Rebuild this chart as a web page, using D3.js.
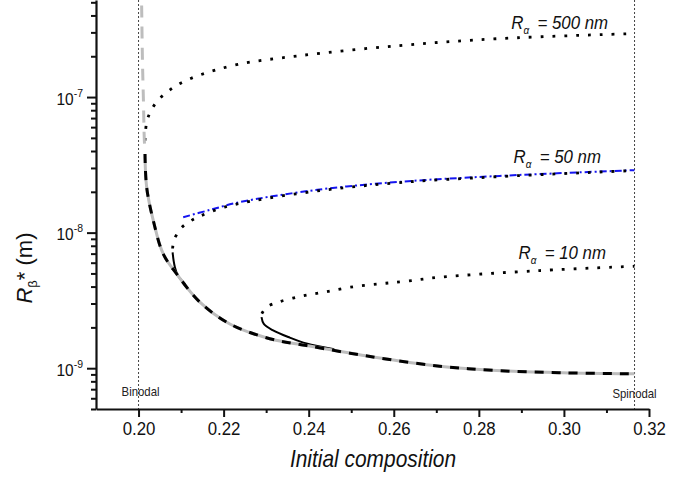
<!DOCTYPE html>
<html><head><meta charset="utf-8">
<script src="https://cdn.jsdelivr.net/npm/d3@7/dist/d3.min.js"></script>
<style>
body{margin:0;background:#fff;}
svg{display:block;font-family:"Liberation Sans",Arial,sans-serif;}
</style>
</head><body>
<svg id="chart" width="695" height="481"></svg>
<script>
// ---------- data ----------
const xMajorTicks = [0.20, 0.22, 0.24, 0.26, 0.28, 0.30, 0.32];
const xMinorTicks = [0.21, 0.23, 0.25, 0.27, 0.29, 0.31];
const yMajorTicks = [1e-9, 1e-8, 1e-7];
const yMajorExp = ["-9", "-8", "-7"];
const yMinorTicks = [5e-10, 6e-10, 7e-10, 8e-10, 9e-10,
  2e-9, 3e-9, 4e-9, 5e-9, 6e-9, 7e-9, 8e-9, 9e-9,
  2e-8, 3e-8, 4e-8, 5e-8, 6e-8, 7e-8, 8e-8, 9e-8,
  2e-7, 3e-7, 4e-7, 5e-7];
const binodal = 0.200;
const spinodal = 0.3166;

// R_alpha -> infinity (gray + black dashed envelope)
const grayTop = [[0.20073, 4.73e-7], [0.20092, 1.86e-7], [0.20115, 9.42e-8], [0.20134, 5.02e-8], [0.20150, 4.0e-8]];
const envelope = [[0.20152, 3.8e-8], [0.20191, 2.16e-8], [0.20346, 1.23e-8], [0.20580, 6.97e-9], [0.20895, 4.97e-9],
  [0.21442, 3.07e-9], [0.22147, 2.12e-9], [0.23086, 1.65e-9], [0.23948, 1.47e-9], [0.25512, 1.21e-9],
  [0.27078, 1.035e-9], [0.28409, 9.62e-10], [0.29973, 9.25e-10], [0.31657, 9.09e-10]];

// R_alpha = 500 nm
const dotted500 = [[0.20151, 4.77e-8], [0.20191, 6.52e-8], [0.20285, 7.85e-8], [0.20449, 9.42e-8], [0.20660, 1.08e-7],
  [0.20895, 1.22e-7], [0.21402, 1.44e-7], [0.22335, 1.74e-7], [0.23790, 2.02e-7], [0.26139, 2.40e-7],
  [0.28487, 2.70e-7], [0.31657, 2.94e-7]];

// R_alpha = 50 nm
const dotted50 = [[0.20801, 7.64e-9], [0.20832, 8.75e-9], [0.20989, 1.07e-8], [0.21207, 1.21e-8], [0.21442, 1.32e-8],
  [0.21952, 1.52e-8], [0.22656, 1.71e-8], [0.24260, 2.04e-8], [0.26139, 2.34e-8], [0.28487, 2.59e-8], [0.31657, 2.87e-8]];
const solid50 = [[0.20801, 7.16e-9], [0.20825, 6.2e-9], [0.20855, 5.56e-9], [0.20926, 4.83e-9], [0.21100, 4.15e-9]];
const blue50 = [[0.21050, 1.30e-8], [0.21677, 1.47e-8], [0.22382, 1.68e-8], [0.24260, 2.08e-8], [0.26139, 2.37e-8],
  [0.28487, 2.62e-8], [0.31657, 2.89e-8]];

// R_alpha = 10 nm
const dotted10 = [[0.22898, 2.53e-9], [0.23008, 2.82e-9], [0.23281, 3.07e-9], [0.23790, 3.38e-9], [0.24338, 3.63e-9],
  [0.24965, 3.95e-9], [0.25669, 4.19e-9], [0.26296, 4.38e-9], [0.27078, 4.69e-9], [0.29426, 5.25e-9], [0.31657, 5.65e-9]];
const solid10 = [[0.22891, 2.38e-9], [0.22945, 2.12e-9], [0.23163, 1.90e-9], [0.23556, 1.68e-9], [0.23948, 1.52e-9], [0.24600, 1.38e-9]];

const curveLabels = ["500 nm", "50 nm", "10 nm"];
const curveLabelX = [0.28762, 0.28816, 0.28933];
const curveLabelY = [3.20e-7, 3.24e-8, 6.44e-9];

// ---------- drawing ----------
const SX = 0.91; // horizontal text squeeze seen in the reference
const svg = d3.select("#chart");
const x = d3.scaleLinear().domain([0.19, 0.32]).range([96, 649]);
const y = d3.scaleLog().domain([5e-10, 5.2e-7]).range([409, 0]);
const line = d3.line().x(d => x(d[0])).y(d => y(d[1])).curve(d3.curveCatmullRom.alpha(0.5));

function textAt(px, py) {
  return svg.append("text").attr("transform", `translate(${px},${py}) scale(${SX},1)`);
}

// reference vertical lines
[binodal, spinodal].forEach(v => {
  svg.append("line").attr("x1", x(v)).attr("x2", x(v)).attr("y1", 0).attr("y2", 409)
    .attr("stroke", "#444").attr("stroke-width", 1).attr("stroke-dasharray", "2,2");
});
textAt(x(binodal) + 2, 396).attr("text-anchor", "middle").attr("font-size", 12.5).attr("fill", "#222").text("Binodal");
textAt(x(spinodal), 398).attr("text-anchor", "middle").attr("font-size", 12.5).attr("fill", "#222").text("Spinodal");

// curves
const dotStyle = p => p.attr("fill", "none").attr("stroke", "#000").attr("stroke-width", 2.8).attr("stroke-dasharray", "2.8,9");
svg.append("path").datum(blue50).attr("d", line).attr("fill", "none").attr("stroke", "#1515f0")
  .attr("stroke-width", 2).attr("stroke-dasharray", "7,3,2,3");
svg.append("path").datum(dotted500).attr("d", line).call(dotStyle);
svg.append("path").datum(dotted50).attr("d", line).call(dotStyle);
svg.append("path").datum(dotted10).attr("d", line).call(dotStyle);
svg.append("path").datum(solid50).attr("d", line).attr("fill", "none").attr("stroke", "#000").attr("stroke-width", 2);
svg.append("path").datum(solid10).attr("d", line).attr("fill", "none").attr("stroke", "#000").attr("stroke-width", 2);
svg.append("path").datum(grayTop).attr("d", line).attr("fill", "none").attr("stroke", "#bdbdbd")
  .attr("stroke-width", 3).attr("stroke-dasharray", "12,9");
svg.append("path").datum(envelope).attr("d", line).attr("fill", "none").attr("stroke", "#bdbdbd").attr("stroke-width", 3);
svg.append("path").datum(envelope).attr("d", line).attr("fill", "none").attr("stroke", "#000")
  .attr("stroke-width", 3).attr("stroke-dasharray", "9,8");

// curve labels
curveLabels.forEach((t, i) => {
  const tx = textAt(x(curveLabelX[i]), y(curveLabelY[i]))
    .attr("font-size", 18.5).attr("font-style", "italic").attr("fill", "#111");
  tx.append("tspan").text("R");
  tx.append("tspan").attr("font-size", 11).attr("dy", 5).text("α");
  tx.append("tspan").attr("dy", -5).attr("dx", 4).text(" = " + t);
});

// axes
const gx = svg.append("g").attr("transform", "translate(0,409)");
gx.call(d3.axisBottom(x).tickValues(xMinorTicks).tickSize(4).tickFormat("").tickSizeOuter(0));
const gxMajor = svg.append("g").attr("transform", "translate(0,409)");
gxMajor.call(d3.axisBottom(x).tickValues(xMajorTicks).tickSize(8).tickPadding(5).tickSizeOuter(0).tickFormat(d3.format(".2f")));
gxMajor.select("path.domain").remove();
gx.selectAll("path.domain").attr("stroke-width", 2.2).attr("stroke", "#111");
gxMajor.selectAll("text").attr("font-size", 18.5).attr("fill", "#111").attr("transform", `scale(${SX},1)`)
  .attr("font-family", "Liberation Sans, Arial, sans-serif");

const gy = svg.append("g").attr("transform", "translate(96,0)");
gy.call(d3.axisLeft(y).tickValues(yMinorTicks).tickSize(5).tickFormat("").tickSizeOuter(0));
const gyMajor = svg.append("g").attr("transform", "translate(96,0)");
gyMajor.call(d3.axisLeft(y).tickValues(yMajorTicks).tickSize(9).tickSizeOuter(0).tickFormat(""));
gyMajor.select("path.domain").remove();
gy.selectAll("path.domain").attr("stroke-width", 2.2).attr("stroke", "#111");
svg.selectAll("g line").attr("stroke-width", 2).attr("stroke", "#111");
gyMajor.selectAll("g.tick").each(function(d, i) {
  const t = d3.select(this).append("text").attr("transform", `translate(-13,7) scale(${SX},1)`).attr("text-anchor", "end")
    .attr("fill", "#111").attr("font-size", 17).attr("font-family", "Liberation Sans, Arial, sans-serif");
  t.append("tspan").text("10");
  t.append("tspan").attr("font-size", 11.5).attr("dy", -8).text(yMajorExp[i]);
});

// axis titles
textAt(373, 467).attr("text-anchor", "middle")
  .attr("font-size", 23).attr("font-style", "italic").attr("fill", "#111").text("Initial composition");
const yt = svg.append("text").attr("transform", "translate(32,268) rotate(-90)").attr("text-anchor", "middle")
  .attr("font-size", 22).attr("fill", "#111");
yt.append("tspan").attr("font-style", "italic").text("R");
yt.append("tspan").attr("font-size", 13).attr("dy", 5).text("β");
yt.append("tspan").attr("dy", -5).text("* (m)");
</script>
</body></html>
